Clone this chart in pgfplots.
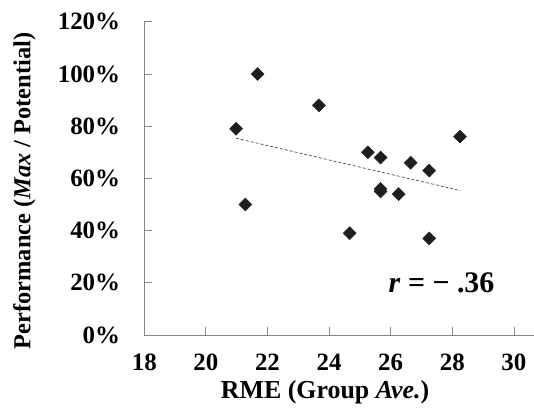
\documentclass[border=0pt]{standalone}
\usepackage{fontspec}
\setmainfont{Liberation Serif}
\usepackage{pgfplots}
\pgfplotsset{compat=1.18}
\definecolor{axgray}{RGB}{134,134,134}
\definecolor{mk}{RGB}{30,30,30}
\begin{document}
\begin{tikzpicture}
\begin{axis}[
  x=30.8bp, y=2.61bp,
  xmin=18, xmax=30.65, ymin=0, ymax=120,
  axis lines*=left,
  axis line style={axgray, line width=0.8bp},
  xtick={18,20,...,30}, ytick={0,20,...,120},
  tick align=inside,
  major tick length=8bp,
  tick style={axgray, line width=0.8bp},
  /pgf/number format/assume math mode=true,
  ticklabel style={font=\bfseries\fontsize{25}{29}\selectfont},
  yticklabel={\pgfmathprintnumber{\tick}\%},
  yticklabel style={anchor=east, inner sep=0pt, xshift=-24bp},
  xticklabel style={anchor=north, inner sep=0pt, yshift=-19bp},
  xlabel={RME (Group \textit{Ave.})},
  ylabel={Performance (\textit{Max} / Potential)},
  every axis x label/.style={at={(axis description cs:0.464,-0.182)}, anchor=center, font=\bfseries\fontsize{26}{30}\selectfont},
  every axis y label/.style={at={(axis description cs:-0.308,0.46)}, rotate=90, anchor=center, font=\bfseries\fontsize{24.5}{30}\selectfont},
  clip=false,
]
\addplot[only marks, mark=square*, mark size=4.6bp, mark options={rotate=45, fill=mk, draw=mk}] coordinates {
  (21.68,100) (23.67,88) (20.98,79) (28.25,76) (25.26,70) (25.67,68) (26.65,66)
  (27.25,63) (25.67,56) (25.67,55) (26.26,54) (21.28,50) (24.67,39) (27.25,37)
};
\addplot[black!80, line width=0.6bp, dash pattern=on 3bp off 2bp] coordinates {(20.98,75.4) (28.27,55.3)};
\node[font=\bfseries\fontsize{30}{34}\selectfont, anchor=center] at (axis cs:27.65,19.9) {\textit{r} = − .36};
\coordinate (O) at (axis cs:18,0);
\end{axis}
\pgfresetboundingbox
\path ([shift={(-144.3bp,-74bp)}]O) rectangle ([shift={(389.7bp,335bp)}]O);
\end{tikzpicture}
\end{document}
